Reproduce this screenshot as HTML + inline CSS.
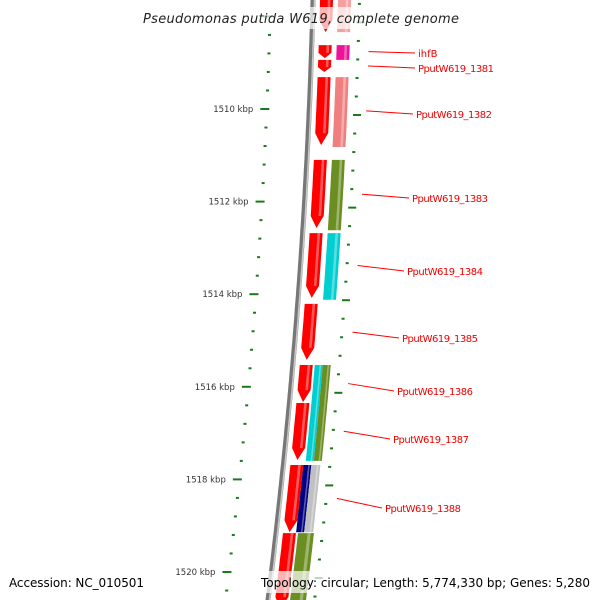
<!DOCTYPE html>
<html><head><meta charset="utf-8"><style>
body{margin:0;background:#fff}
svg{display:block}
text{font-family:"DejaVu Sans","Liberation Sans",sans-serif}
</style></head><body>
<svg id="c" width="600" height="600"></svg>
<script>
const geneStarts=[1507.5,1508.62,1508.94,1509.31,1511.10,1512.68,1514.21,1515.53,1516.35,1517.69,1519.16];
const geneEnds=[1508.34,1508.90,1509.20,1510.78,1512.57,1514.08,1515.42,1516.33,1517.58,1519.14,1520.8];
const fwdStarts=[1507.5,1508.62,1509.31,1511.10,1512.68,1515.53,1515.53,1517.69,1517.69,1519.16];
const fwdEnds=[1508.34,1508.94,1510.82,1512.62,1514.12,1517.60,1517.60,1519.14,1519.14,1520.8];
const fwdColors=['#f4a0a0','#ee1199','#f08080','#6b8e23','#00ced1','#00ced1','#6b8e23','#000080','#c0c0c0','#6b8e23'];
const fwdOff=[[25,38],[25,38],[25,38],[25,38],[25,38],[22,30],[30,38],[20,28],[28,37],[22,38]];
const labelNames=['ihfB','PputW619_1381','PputW619_1382','PputW619_1383','PputW619_1384','PputW619_1385','PputW619_1386','PputW619_1387','PputW619_1388'];
const labelKbp=[1508.76,1509.07,1510.04,1511.84,1513.38,1514.82,1515.93,1516.96,1518.41];
const labelY=[53,68,114,198,271,338,391,439,508];
const labelX=[418,418,416,412,407,402,397,393,385];
const majorTicks=[1510,1512,1514,1516,1518,1520];
const NS='http://www.w3.org/2000/svg';
const svg=document.getElementById('c');
const Y=k=>109+(k-1510)*46.3;
const X=y=>313-0.025*y-0.0000833*y*y;
function el(t,a,p){const e=document.createElementNS(NS,t);for(const k in a)e.setAttribute(k,a[k]);(p||svg).appendChild(e);return e;}
let bp='';for(let y=-5;y<=605;y+=5)bp+=(y<0?'M':'L')+X(y).toFixed(1)+' '+y;
let b=el('path',{d:bp,stroke:'#777',fill:'none','stroke-width':5});

let b2=el('path',{d:bp,stroke:'#c8c8c8',fill:'none','stroke-width':1.5,transform:'translate(1.5,0)'});

function band(y1,y2,o1,o2,tip){
 y1=Math.max(y1,-10);const h=Math.min(12,(y2-y1)*0.4);const yb=tip?y2-h:y2;let pts=[];
 for(let y=y1;y<yb;y+=4)pts.push([X(y)+o1,y]);pts.push([X(yb)+o1,yb]);
 if(tip){pts.push([X(y2)+(o1+o2)/2,y2]);}
 pts.push([X(yb)+o2,yb]);for(let y=yb;y>y1;y-=4)pts.push([X(y)+o2,y]);pts.push([X(y1)+o2,y1]);
 return pts.map(p=>p[0].toFixed(1)+','+p[1].toFixed(1)).join(' ');}
function stripe(y1,y2,o1,o2,tip,name){
 const h=Math.min(12,(y2-y1)*0.4);const ye=tip?y2-h:y2;const w=o2-o1;
 const s=el('polygon',{points:band(y1,ye,o1+w*0.6,o1+w*0.8,false),fill:'#fff','fill-opacity':0.35});
 }
for(let i=0;i<geneStarts.length;i++){
 const y1=Y(geneStarts[i]),y2=Y(geneEnds[i]);
 const p=el('polygon',{points:band(y1,y2,7,20,true),fill:'#ff0000'});
 
 stripe(y1,y2,7,20,true,'gene-highlight');}
for(let i=0;i<fwdStarts.length;i++){
 const y1=Y(fwdStarts[i]),y2=Y(fwdEnds[i]);
 const p=el('polygon',{points:band(y1,y2,fwdOff[i][0],fwdOff[i][1],false),fill:fwdColors[i]});
 
 stripe(y1,y2,fwdOff[i][0],fwdOff[i][1],false,'feature-highlight');}
for(let k=1507.6;k<1520.9;k+=0.4){const y=Y(k);const maj=Math.abs(k-Math.round(k))<0.05&&Math.round(k)%2==0;
 const t=el('rect',{x:X(y)-(maj?49:44),y:y-1,width:maj?9:3,height:2,fill:'#1a7a1a'});
 }
for(let k=1507.33;k<1520.9;k+=0.4){const y=Y(k);const maj=Math.abs((k-0.13)-Math.round(k-0.13))<0.05&&Math.round(k-0.13)%2==0;
 const t=el('rect',{x:X(y)+(maj?44:45),y:y-1,width:maj?8:3,height:2,fill:'#1a7a1a'});
 }
majorTicks.forEach(k=>{const y=Y(k);const t=el('text',{x:X(y)-56,y:y+3,'font-size':8.5,'text-anchor':'end',fill:'#333'});
 t.textContent=k+' kbp';});
labelNames.forEach((n,i)=>{const gy=Y(labelKbp[i]);
 const l=el('line',{x1:X(gy)+57,y1:gy,x2:labelX[i]-3,y2:labelY[i],stroke:'#f00','stroke-width':1});
 
 const t=el('text',{x:labelX[i],y:labelY[i]+4,'font-size':10,fill:'#e00'});t.textContent=n;
 if(n.length>5)t.setAttribute('textLength',76);
 });
const r1=el('rect',{x:138,y:7,width:326,height:22,fill:'#fff','fill-opacity':0.7});
const tt=el('text',{x:143,y:23,'font-size':13,'font-style':'italic',fill:'#222',textLength:316});
tt.textContent='Pseudomonas putida W619, complete genome';
const r2=el('rect',{x:3,y:571,width:148,height:22,fill:'#fff','fill-opacity':0.7});
const a=el('text',{x:9,y:587,'font-size':12,fill:'#000',textLength:135});a.textContent='Accession: NC_010501';
const r3=el('rect',{x:256,y:571,width:340,height:22,fill:'#fff','fill-opacity':0.7});
const tp=el('text',{x:261,y:587,'font-size':12,fill:'#000',textLength:329});tp.textContent='Topology: circular; Length: 5,774,330 bp; Genes: 5,280';

</script>
</body></html>
